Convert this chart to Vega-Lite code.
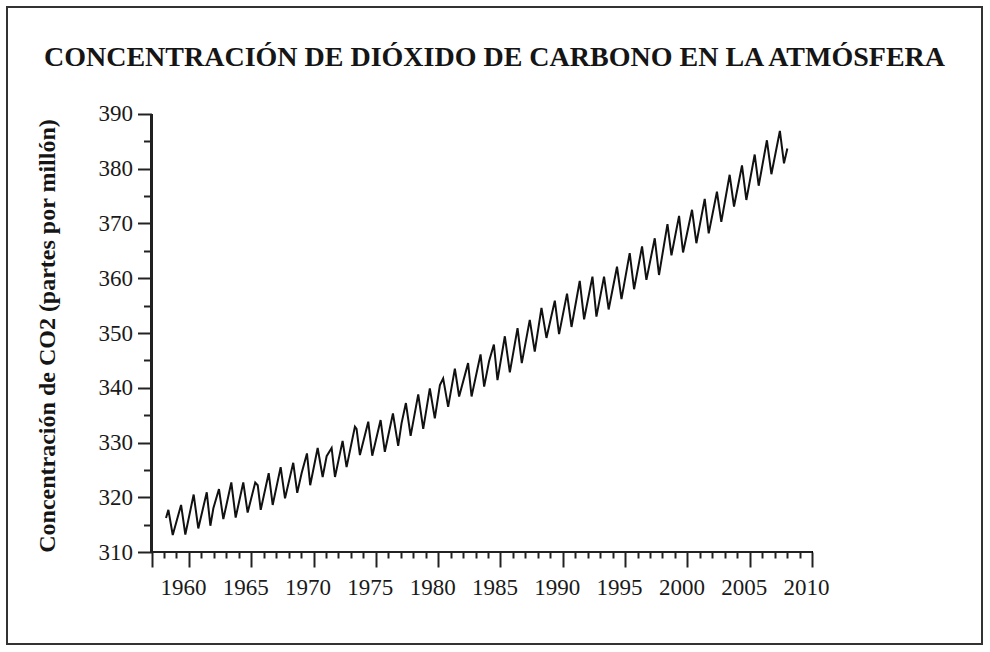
{
  "$schema": "https://vega.github.io/schema/vega-lite/v6.json",
  "width": 975,
  "height": 637,
  "autosize": "none",
  "padding": {"left": 7, "top": 7, "right": 8, "bottom": 8},
  "background": "white",
  "config": {"view": {"stroke": "#333333", "strokeWidth": 2}, "font": "Liberation Serif"},
  "title": {
    "text": "CONCENTRACIÓN DE DIÓXIDO DE CARBONO EN LA ATMÓSFERA",
    "font": "Liberation Serif",
    "fontSize": 28,
    "fontWeight": "bold",
    "color": "#151515",
    "anchor": "middle",
    "baseline": "alphabetic",
    "offset": -60,
    "dy": 27
  },
  "data": {"values": [
    {"t": 1958.16, "ppm": 316.2}, {"t": 1958.35, "ppm": 317.7}, {"t": 1958.70, "ppm": 313.1},
    {"t": 1959.37, "ppm": 318.6}, {"t": 1959.71, "ppm": 313.2}, {"t": 1960.38, "ppm": 320.5},
    {"t": 1960.75, "ppm": 314.3}, {"t": 1961.43, "ppm": 320.9}, {"t": 1961.72, "ppm": 314.8},
    {"t": 1961.96, "ppm": 318.0}, {"t": 1962.41, "ppm": 321.5}, {"t": 1962.76, "ppm": 316.0},
    {"t": 1963.40, "ppm": 322.7}, {"t": 1963.75, "ppm": 316.3}, {"t": 1964.36, "ppm": 322.7},
    {"t": 1964.71, "ppm": 317.2}, {"t": 1965.32, "ppm": 322.7}, {"t": 1965.52, "ppm": 322.2},
    {"t": 1965.76, "ppm": 317.7}, {"t": 1966.40, "ppm": 324.4}, {"t": 1966.72, "ppm": 318.6},
    {"t": 1967.36, "ppm": 325.5}, {"t": 1967.71, "ppm": 319.8}, {"t": 1968.37, "ppm": 326.3},
    {"t": 1968.69, "ppm": 320.8}, {"t": 1969.04, "ppm": 324.4}, {"t": 1969.47, "ppm": 328.0},
    {"t": 1969.73, "ppm": 322.2}, {"t": 1970.33, "ppm": 329.0}, {"t": 1970.73, "ppm": 323.7},
    {"t": 1971.05, "ppm": 327.5}, {"t": 1971.45, "ppm": 329.0}, {"t": 1971.72, "ppm": 323.7},
    {"t": 1972.33, "ppm": 330.3}, {"t": 1972.65, "ppm": 325.5}, {"t": 1973.32, "ppm": 332.9},
    {"t": 1973.45, "ppm": 332.5}, {"t": 1973.72, "ppm": 327.7}, {"t": 1974.39, "ppm": 333.8},
    {"t": 1974.71, "ppm": 327.6}, {"t": 1975.38, "ppm": 334.1}, {"t": 1975.72, "ppm": 328.3},
    {"t": 1976.37, "ppm": 335.3}, {"t": 1976.79, "ppm": 329.4}, {"t": 1977.06, "ppm": 333.5},
    {"t": 1977.41, "ppm": 337.2}, {"t": 1977.79, "ppm": 331.2}, {"t": 1978.40, "ppm": 338.8},
    {"t": 1978.80, "ppm": 332.5}, {"t": 1979.33, "ppm": 339.9}, {"t": 1979.73, "ppm": 334.4},
    {"t": 1980.14, "ppm": 340.5}, {"t": 1980.40, "ppm": 341.7}, {"t": 1980.80, "ppm": 336.5},
    {"t": 1981.34, "ppm": 343.5}, {"t": 1981.68, "ppm": 338.4}, {"t": 1982.40, "ppm": 344.5},
    {"t": 1982.68, "ppm": 338.4}, {"t": 1983.40, "ppm": 346.1}, {"t": 1983.69, "ppm": 340.2},
    {"t": 1984.09, "ppm": 344.9}, {"t": 1984.47, "ppm": 347.9}, {"t": 1984.76, "ppm": 341.4},
    {"t": 1985.35, "ppm": 349.4}, {"t": 1985.75, "ppm": 342.8}, {"t": 1986.37, "ppm": 350.9},
    {"t": 1986.71, "ppm": 344.5}, {"t": 1987.35, "ppm": 352.4}, {"t": 1987.75, "ppm": 346.6},
    {"t": 1988.29, "ppm": 354.6}, {"t": 1988.69, "ppm": 349.1}, {"t": 1989.36, "ppm": 355.9},
    {"t": 1989.70, "ppm": 349.8}, {"t": 1990.34, "ppm": 357.2}, {"t": 1990.70, "ppm": 351.1},
    {"t": 1991.36, "ppm": 359.5}, {"t": 1991.71, "ppm": 352.5}, {"t": 1992.38, "ppm": 360.3},
    {"t": 1992.70, "ppm": 353.0}, {"t": 1993.31, "ppm": 360.3}, {"t": 1993.68, "ppm": 354.3},
    {"t": 1994.35, "ppm": 362.1}, {"t": 1994.71, "ppm": 356.2}, {"t": 1995.37, "ppm": 364.6},
    {"t": 1995.72, "ppm": 358.0}, {"t": 1996.36, "ppm": 365.8}, {"t": 1996.71, "ppm": 359.7},
    {"t": 1997.38, "ppm": 367.3}, {"t": 1997.72, "ppm": 360.6}, {"t": 1998.40, "ppm": 369.9},
    {"t": 1998.72, "ppm": 364.2}, {"t": 1999.33, "ppm": 371.4}, {"t": 1999.65, "ppm": 364.7},
    {"t": 2000.37, "ppm": 372.5}, {"t": 2000.72, "ppm": 366.4}, {"t": 2001.39, "ppm": 374.5},
    {"t": 2001.71, "ppm": 368.2}, {"t": 2002.37, "ppm": 375.8}, {"t": 2002.72, "ppm": 370.3},
    {"t": 2003.39, "ppm": 378.9}, {"t": 2003.74, "ppm": 373.1}, {"t": 2004.38, "ppm": 380.6},
    {"t": 2004.73, "ppm": 374.3}, {"t": 2005.40, "ppm": 382.6}, {"t": 2005.72, "ppm": 376.9},
    {"t": 2006.38, "ppm": 385.2}, {"t": 2006.74, "ppm": 379.0}, {"t": 2007.42, "ppm": 386.9},
    {"t": 2007.75, "ppm": 381.0}, {"t": 2008.02, "ppm": 383.7}
  ]},
  "layer": [
    {
      "mark": {"type": "line", "color": "#111111", "strokeWidth": 2},
      "encoding": {
        "x": {
          "field": "t", "type": "quantitative",
          "scale": {"domain": [1945.4, 2023.64], "nice": false, "zero": false},
          "axis": {
            "offset": -92,
            "tickCount": 500,
            "values": [1957,1958,1959,1960,1961,1962,1963,1964,1965,1966,1967,1968,1969,1970,1971,1972,1973,1974,1975,1976,1977,1978,1979,1980,1981,1982,1983,1984,1985,1986,1987,1988,1989,1990,1991,1992,1993,1994,1995,1996,1997,1998,1999,2000,2001,2002,2003,2004,2005,2006,2007,2008,2009,2010],
            "domain": false,
            "grid": false,
            "tickColor": "#222222",
            "tickWidth": 2,
            "tickSize": {"condition": {"test": "datum.value % 5 === 0 || datum.value === 1957", "value": 15}, "value": 6},
            "labelExpr": "datum.value % 5 === 0 ? datum.label : ''",
            "labelFont": "Liberation Serif",
            "labelFontSize": 23,
            "labelColor": "#1a1a1a",
            "labelPadding": 9,
            "labelOffset": -6,
            "labelFlush": false,
            "labelOverlap": false,
            "labelBound": false,
            "format": "d",
            "title": null
          }
        },
        "y": {
          "field": "ppm", "type": "quantitative",
          "scale": {"domain": [293.2, 409.54], "nice": false, "zero": false},
          "axis": {
            "offset": -144.5,
            "tickCount": 500,
            "values": [310,315,320,325,330,335,340,345,350,355,360,365,370,375,380,385,390],
            "domain": false,
            "grid": false,
            "tickColor": "#222222",
            "tickWidth": 2,
            "tickSize": {"condition": {"test": "datum.value % 10 === 0", "value": 14}, "value": 8},
            "labelExpr": "datum.value % 10 === 0 ? datum.label : ''",
            "format": "d",
            "labelFont": "Liberation Serif",
            "labelFontSize": 23,
            "labelColor": "#1a1a1a",
            "labelPadding": 5,
            "labelFlush": false,
            "labelOverlap": false,
            "labelBound": false,
            "title": "Concentración de CO2 (partes por millón)",
            "titleFont": "Liberation Serif",
            "titleFontSize": 24,
            "titleFontWeight": "bold",
            "titleColor": "#151515",
            "titleAngle": 270,
            "titleAlign": "center",
            "titleBaseline": "middle",
            "titleX": -104.5,
            "titleY": 328.5
          }
        }
      }
    },
    {
      "mark": {"type": "rule", "color": "#222222", "strokeWidth": 2},
      "encoding": {"x": {"datum": 1957}, "x2": {"datum": 2010}, "y": {"datum": 310}}
    },
    {
      "mark": {"type": "rule", "color": "#222222", "strokeWidth": 2},
      "encoding": {"x": {"datum": 1957}, "y": {"datum": 310}, "y2": {"datum": 390}}
    }
  ]
}
